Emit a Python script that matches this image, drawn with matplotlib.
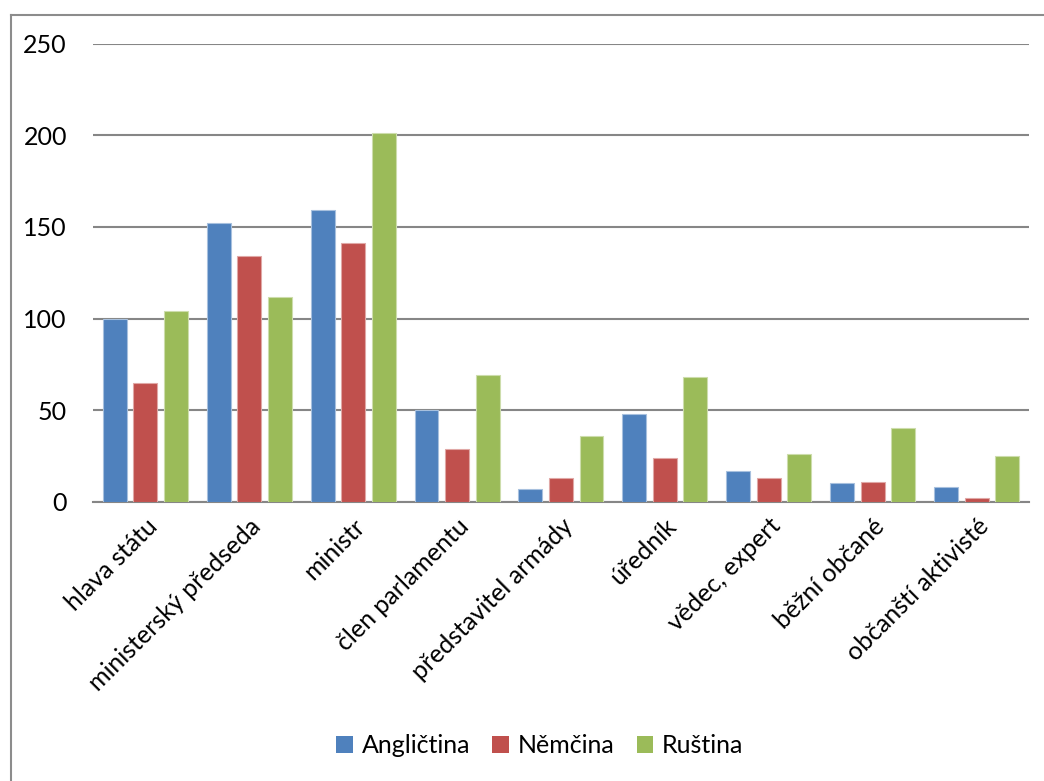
import numpy as np
import matplotlib
matplotlib.use("Agg")
import matplotlib.pyplot as plt
from matplotlib.lines import Line2D
from matplotlib.patches import Patch

categories = ["hlava státu", "ministerský předseda", "ministr", "člen parlamentu",
              "představitel armády", "úředník", "vědec, expert", "běžní občané",
              "občanští aktivisté"]
anglictina = [100, 152, 159, 50, 7, 48, 17, 10, 8]
nemcina = [65, 134, 141, 29, 13, 24, 13, 11, 2]
rustina = [104, 112, 201, 69, 36, 68, 26, 40, 25]
series_names = ["Angličtina", "Němčina", "Ruština"]
yticks = [0, 50, 100, 150, 200, 250]

colors = ["#4F81BD", "#C0504D", "#9BBB59"]
edges = ["#A7C0DE", "#E0A8A6", "#CDDDAC"]

plt.rcParams["font.family"] = ["Lato", "DejaVu Sans"]

fig = plt.figure(figsize=(10.44, 7.81), dpi=100)
ax = fig.add_axes([0.0894, 0.3576, 0.8958, 0.5864])

x = np.arange(len(categories))
width = 0.23
step = 0.294
for i, (vals, c, ec) in enumerate(zip([anglictina, nemcina, rustina], colors, edges)):
    ax.bar(x + (i - 1) * step, vals, width, color=c, edgecolor=ec, linewidth=0.8,
           zorder=3, label=series_names[i])

ax.set_xlim(-0.5, len(categories) - 0.5)
ax.set_ylim(0, 250)
ax.set_yticks(yticks)
ax.set_yticklabels([str(v) for v in yticks], fontsize=18)
ax.yaxis.grid(True, color="#868686", linewidth=1.5, zorder=0)
ax.tick_params(axis="y", length=0, pad=19)
ax.tick_params(axis="x", length=0, pad=9)
for side in ["left", "right", "top"]:
    ax.spines[side].set_visible(False)
ax.spines["bottom"].set_color("#868686")
ax.spines["bottom"].set_linewidth(1.5)

ax.set_xticks(x)
ax.set_xticklabels(categories, rotation=45, ha="right", va="top",
                   rotation_mode="anchor", fontsize=18)

handles = [Patch(facecolor=c, edgecolor="none") for c in colors]
fig.legend(handles, series_names, loc="center", bbox_to_anchor=(0.517, 0.045),
           ncol=3, frameon=False, fontsize=18, handlelength=0.65, handleheight=0.65,
           handletextpad=0.35, columnspacing=0.9)

# outer frame (left and top edges)
fig.add_artist(Line2D([11 / 1044, 11 / 1044], [0, 1 - 14.5 / 781],
                      transform=fig.transFigure, color="#8C8C8C", linewidth=1.5))
fig.add_artist(Line2D([11 / 1044, 1], [1 - 14.5 / 781, 1 - 14.5 / 781],
                      transform=fig.transFigure, color="#8C8C8C", linewidth=1.5))

fig.savefig("out.png", dpi=100, facecolor="white")
